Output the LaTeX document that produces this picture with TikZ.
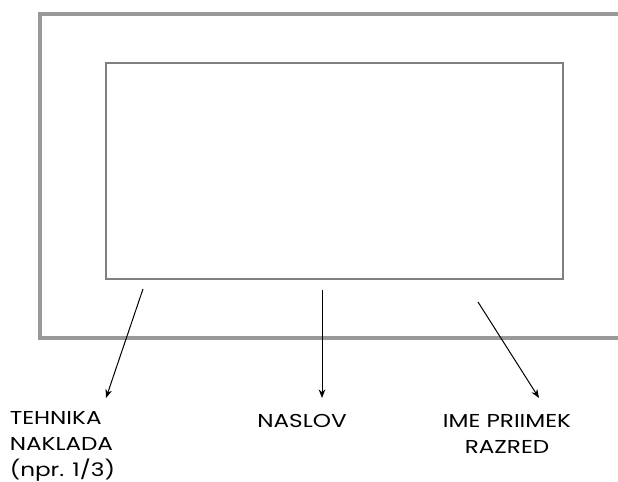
\documentclass[tikz,border=0pt]{standalone}
\usepackage{fontspec}
\setmainfont{Poppins}[FakeStretch=1.24]
\usetikzlibrary{arrows.meta}
\begin{document}
\begin{tikzpicture}[x=0.75pt,y=-0.75pt,
  outerframe/.style={draw=black!40, line width=3pt},
  innerframe/.style={draw=black!50, line width=1.5pt},
  pointer/.style={draw=black, line width=0.75pt, -{Stealth[length=6.5pt,width=5pt]}},
  label/.style={font=\fontsize{14pt}{19.5pt}\selectfont, inner sep=0pt}]
\useasboundingbox (0,0) rectangle (618,482);
\draw[outerframe] (620,14) -- (39.5,14) -- (39.5,338) -- (620,338);
\node[innerframe, minimum width=457*0.75pt, minimum height=216*0.75pt, anchor=north west, inner sep=0pt] (frame) at (105,62) {};
\node[label, anchor=base west, align=left] (tech) at (9.5,476) {TEHNIKA\\NAKLADA\\(npr. 1/3)};
\node[label, anchor=base] (title) at (302,427) {NASLOV};
\node[label, anchor=base, align=center] (name) at (507,453) {IME PRIIMEK\\RAZRED};
\coordinate (s1) at (143,289);
\coordinate (e1) at (106,398);
\coordinate (s2) at (322,290);
\coordinate (e2) at (322,398);
\coordinate (s3) at (478,302);
\coordinate (e3) at (539,398);
\draw[pointer] (s1) -- (e1);
\draw[pointer] (s2) -- (e2);
\draw[pointer] (s3) -- (e3);
\end{tikzpicture}
\end{document}
